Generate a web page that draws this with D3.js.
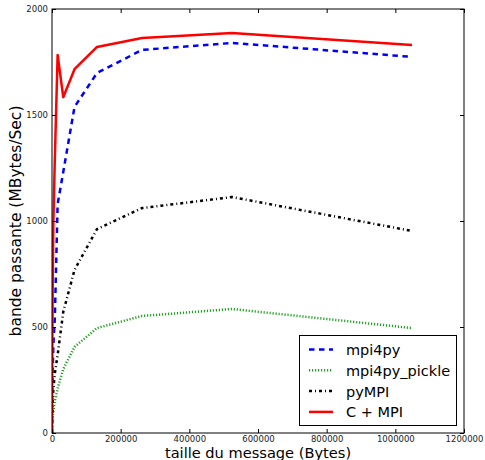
<!DOCTYPE html>
<html><head><meta charset="utf-8">
<script src="https://cdn.jsdelivr.net/npm/d3@7"></script>
<style>body{margin:0;background:#fff}svg{display:block}text{font-family:"DejaVu Sans",sans-serif}</style>
</head><body><div id="chart"></div>
<script>
const sizes = [1,2,4,8,16,32,64,128,256,512,1024,2048,4096,8192,16384,32768,65536,131072,262144,524288,1048576];
const mpi4py =        [0.3,0.6,1.2,2.5,5,10,18,32,60,110,190,300,420,540,1080,1231,1538,1698,1807,1840,1774];
const mpi4pyPickle =  [0.2,0.4,0.8,1.5,3,6,10,16,27,40,55,80,105,150,210,302,406,495,552,585,495];
const pyMPI =         [0.2,0.4,0.8,1.5,3,6,12,22,38,60,100,150,210,280,368,571,769,962,1061,1113,953];
const cMPI =          [0.6,1.2,2.5,5,10,20,40,75,140,260,450,700,1000,1290,1783,1584,1716,1821,1863,1887,1830];
const seriesNames = ["mpi4py","mpi4py_pickle","pyMPI","C + MPI"];
const xTicks = [0,200000,400000,600000,800000,1000000,1200000];
const yTicks = [0,500,1000,1500,2000];

const W=485,H=460, L=52,R=464,T=9,B=433;
const svg=d3.select("#chart").append("svg").attr("width",W).attr("height",H);
const x=d3.scaleLinear().domain([0,1200000]).range([L,R]);
const y=d3.scaleLinear().domain([0,2000]).range([B,T]);

const series=[
 {name:seriesNames[0],vals:mpi4py,color:"#0000ff",dash:"5.5,4.5"},
 {name:seriesNames[1],vals:mpi4pyPickle,color:"#22a022",dash:"1.2,1.8"},
 {name:seriesNames[2],vals:pyMPI,color:"#000000",dash:"3,3,1,3"},
 {name:seriesNames[3],vals:cMPI,color:"#ff0000",dash:null}
];
svg.append("clipPath").attr("id","c").append("rect").attr("x",L).attr("y",T).attr("width",R-L).attr("height",B-T);
const g=svg.append("g").attr("clip-path","url(#c)");
const line=d3.line().x((d,i)=>x(sizes[i])).y(d=>y(d));
series.forEach(s=>{
  g.append("path").datum(s.vals).attr("d",line).attr("fill","none")
   .attr("stroke",s.color).attr("stroke-width",2.5)
   .attr("stroke-dasharray",s.dash).attr("stroke-linejoin","round");
});

svg.append("rect").attr("x",L).attr("y",T).attr("width",R-L).attr("height",B-T)
  .attr("fill","none").attr("stroke","#000").attr("stroke-width",1);

const xb=svg.append("g").attr("transform",`translate(0,${B})`)
  .call(d3.axisBottom(x).tickValues(xTicks).tickSizeInner(-4).tickSizeOuter(0).tickPadding(3).tickFormat(d3.format("d")));
const xt=svg.append("g").attr("transform",`translate(0,${T})`)
  .call(d3.axisTop(x).tickValues(xTicks).tickSizeInner(-4).tickSizeOuter(0).tickFormat(""));
const yl=svg.append("g").attr("transform",`translate(${L},0)`)
  .call(d3.axisLeft(y).tickValues(yTicks).tickSizeInner(-4).tickSizeOuter(0).tickPadding(4).tickFormat(d3.format("d")));
const yr=svg.append("g").attr("transform",`translate(${R},0)`)
  .call(d3.axisRight(y).tickValues(yTicks).tickSizeInner(-4).tickSizeOuter(0).tickFormat(""));
[xb,xt,yl,yr].forEach(a=>{a.select(".domain").remove();a.selectAll("text").attr("font-size",8.5).attr("fill","#222").style("font-family","DejaVu Sans");a.selectAll("line").attr("stroke","#000");});

svg.append("text").attr("x",(L+R)/2).attr("y",458).attr("text-anchor","middle").attr("font-size",14.6).text("taille du message (Bytes)");
svg.append("text").attr("transform",`translate(21,${(T+B)/2}) rotate(-90)`).attr("text-anchor","middle").attr("font-size",15.5).text("bande passante (MBytes/Sec)");

const lg=svg.append("g");
lg.append("rect").attr("x",299.5).attr("y",335.5).attr("width",157).attr("height",90).attr("fill","#fff").attr("stroke","#000").attr("stroke-width",1);
series.forEach((s,i)=>{
  const yy=349.5+i*20.8;
  lg.append("line").attr("x1",309).attr("x2",333).attr("y1",yy).attr("y2",yy)
    .attr("stroke",s.color).attr("stroke-width",2.5).attr("stroke-dasharray",s.dash);
  lg.append("text").attr("x",346).attr("y",yy+5.5).attr("font-size",14.5).text(s.name);
});
</script></body></html>
